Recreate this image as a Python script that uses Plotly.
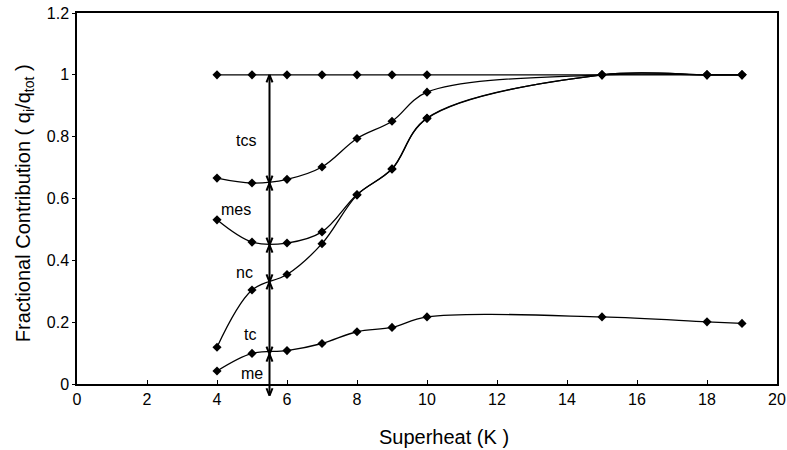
import plotly.graph_objects as go

superheat = [4, 5, 6, 7, 8, 9, 10, 15, 18, 19]
total = [1.0, 1.0, 1.0, 1.0, 1.0, 1.0, 1.0, 1.0, 1.0, 1.0]
tcs_bound = [0.666, 0.650, 0.662, 0.702, 0.794, 0.850, 0.944, 1.0, 1.0, 1.0]
mes_bound = [0.531, 0.459, 0.456, 0.492, 0.613, 0.696, 0.860, 1.0, 1.0, 1.0]
nc_bound = [0.119, 0.304, 0.354, 0.454, 0.611, 0.695, 0.859, 1.0, 1.0, 1.0]
tc_bound = [0.042, 0.099, 0.108, 0.131, 0.169, 0.183, 0.217, 0.217, 0.201, 0.196]

arrow_x = 5.5
arrow_bounds = [1.0, 0.650, 0.449, 0.330, 0.097, -0.038]
region_labels = ["tcs", "mes", "nc", "tc", "me"]
label_x = [4.83, 4.55, 4.78, 4.94, 5.0]
label_y = [0.786, 0.564, 0.36, 0.160, 0.035]

x_range = [0, 20]
y_range = [0, 1.2]
x_ticks = list(range(0, 21, 2))
y_ticks = [0, 0.2, 0.4, 0.6, 0.8, 1.0, 1.2]
y_tick_text = ["0", "0.2", "0.4", "0.6", "0.8", "1", "1.2"]

FONT = "Liberation Sans, Arial, sans-serif"

fig = go.Figure()
for ys in [total, tcs_bound, mes_bound, nc_bound, tc_bound]:
    fig.add_trace(go.Scatter(
        x=superheat, y=ys, mode="lines+markers",
        line=dict(color="black", width=1.3, shape="spline", smoothing=1.0),
        marker=dict(symbol="diamond", size=7, color="black"),
        showlegend=False, cliponaxis=False))


def shaft(y_from, y_to):
    fig.add_annotation(x=arrow_x, y=y_to, ax=arrow_x, ay=y_from,
                       xref="x", yref="y", axref="x", ayref="y",
                       text="", showarrow=True, arrowhead=0, arrowwidth=2,
                       arrowcolor="black", standoff=0, startstandoff=0)


def vhead(y_tip, pointing_up):
    yp = (y_tip - y_range[0]) / (y_range[1] - y_range[0])
    for side in (-1, 1):
        fig.add_annotation(x=arrow_x, y=yp, xref="x", yref="paper",
                           ax=side * 3.6, ay=(9 if pointing_up else -9),
                           text="", showarrow=True, arrowhead=0,
                           arrowwidth=2, arrowcolor="black",
                           standoff=0, startstandoff=0)


# double-headed arrows between boundaries (open V heads)
for top, bot in zip(arrow_bounds[:-1], arrow_bounds[1:]):
    shaft(bot, top)
    vhead(top, True)
    vhead(bot, False)

for t, lx, ly in zip(region_labels, label_x, label_y):
    fig.add_annotation(x=lx, y=ly, text=t, showarrow=False,
                       font=dict(family=FONT, size=16, color="black"))

fig.add_annotation(xref="paper", yref="paper", x=0.524, y=-0.143,
                   text="Superheat (K )", showarrow=False,
                   yanchor="middle", xanchor="center",
                   font=dict(family=FONT, size=20, color="black"))
fig.add_annotation(xref="paper", yref="paper", x=-0.074, y=0.488,
                   text="Fractional Contribution ( q<sub>i</sub>/q<sub>tot</sub> )",
                   showarrow=False, textangle=-90,
                   yanchor="middle", xanchor="center",
                   font=dict(family=FONT, size=20, color="black"))

fig.update_xaxes(range=x_range, tickvals=x_ticks, ticks="inside", ticklen=4,
                 tickcolor="black", showline=True, linecolor="black",
                 linewidth=2, mirror=True, showgrid=False, zeroline=False,
                 automargin=False, ticklabeloverflow="allow",
                 tickfont=dict(family=FONT, size=16, color="black"))
fig.update_yaxes(range=y_range, tickvals=y_ticks, ticktext=y_tick_text,
                 ticks="outside", ticklen=3, tickcolor="black",
                 showline=True, linecolor="black", linewidth=1.5, mirror=True,
                 showgrid=False, zeroline=False, automargin=False,
                 ticklabeloverflow="allow",
                 tickfont=dict(family=FONT, size=16, color="black"))

fig.update_layout(width=787, height=450,
                  margin=dict(l=77, r=10, t=13, b=66),
                  plot_bgcolor="white", paper_bgcolor="white",
                  font=dict(family=FONT, color="black"))

fig.write_html("out.html",
               config={"displayModeBar": False},
               post_script="document.body.style.margin='0';"
                           "document.body.style.overflow='hidden';")
